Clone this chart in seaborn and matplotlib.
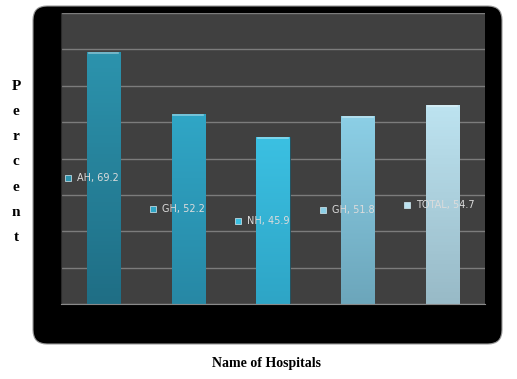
import seaborn as sns
import matplotlib.pyplot as plt
import pandas as pd
import numpy as np
from matplotlib.patches import FancyBboxPatch
from matplotlib.colors import LinearSegmentedColormap

hospitals = ['AH', 'GH', 'NH', 'GH', 'TOTAL']
percent = [69.2, 52.2, 45.9, 51.8, 54.7]

top_colors = ['#2c93ad', '#30a6c6', '#3bc0e2', '#8ccfe6', '#bde3f0']
bottom_colors = ['#1f6e85', '#2788a5', '#2ea5c6', '#6ca6bb', '#98bac7']

df = pd.DataFrame({'pos': range(len(hospitals)), 'name': hospitals, 'percent': percent})

fig = plt.figure(figsize=(5.17, 3.79), dpi=100)
fig.patch.set_facecolor('white')

# black rounded frame behind the plot
frame = FancyBboxPatch((0.33, 0.35), 4.69, 3.38, boxstyle='round,pad=0,rounding_size=0.14',
                       transform=fig.dpi_scale_trans, facecolor='black', edgecolor='#9a9a9a',
                       linewidth=0.8, zorder=-5)
fig.patches.append(frame)

ax = fig.add_axes([61 / 517, 75 / 379, 424 / 517, 291 / 379])
ax.set_zorder(2)
ax.set_facecolor('#404040')

sns.barplot(data=df, x='pos', y='percent', hue='pos', palette=top_colors, legend=False,
            width=0.39, ax=ax, zorder=2, edgecolor='#1c4d5c', linewidth=0.6)

# vertical gradient inside each bar
grad = np.linspace(0, 1, 64).reshape(-1, 1)
for patch, c1, c2 in zip(ax.patches, top_colors, bottom_colors):
    x0, y0 = patch.get_x(), patch.get_y()
    w, h = patch.get_width(), patch.get_height()
    cmap = LinearSegmentedColormap.from_list('g', [c2, c1])
    im = ax.imshow(grad, cmap=cmap, extent=[x0, x0 + w, y0, y0 + h], origin='lower',
                   aspect='auto', zorder=2.5)
    im.set_clip_path(patch)
    # light bevel at the top
    ax.plot([x0 + 0.02, x0 + w - 0.02], [y0 + h - 0.3, y0 + h - 0.3], color='white',
            alpha=0.4, lw=1.2, zorder=3)

ax.set_xlim(-0.5, len(hospitals) - 0.5)
ax.set_ylim(0, 80)
ax.set_yticks(np.arange(0, 81, 10))
ax.set_xticks([])
ax.tick_params(left=False, labelleft=False, bottom=False, labelbottom=False)
ax.yaxis.grid(True, color='#7c7c7c', linewidth=1)
ax.xaxis.grid(False)
ax.set_axisbelow(True)
ax.set_xlabel('')
ax.set_ylabel('')
for side in ['top', 'right']:
    ax.spines[side].set_visible(False)
ax.spines['left'].set_color('#2a2a2a')
ax.spines['bottom'].set_color('#8a8a8a')

# data labels, left of each bar at half height
for i, (name, v) in enumerate(zip(hospitals, percent)):
    ax.scatter(i - 0.415, v / 2, marker='s', s=13, color=top_colors[i], edgecolor='#d5edf5',
               linewidth=0.5, zorder=4)
    ax.text(i - 0.31, v / 2, f'{name}, {v}', color='#dcdcdc', fontsize=7, va='center',
            ha='left', zorder=4)

# axis titles
for k, ch in enumerate('Percent'):
    fig.text(16 / 517, 1 - (86 + 25.3 * k) / 379, ch, fontsize=11, fontweight='bold',
             family='Liberation Serif', ha='center', va='center')
fig.text(267 / 517, 1 - 364 / 379, 'Name of Hospitals', fontsize=10, fontweight='bold',
         family='Liberation Serif', ha='center', va='center')

plt.savefig('out.png', dpi=100)
